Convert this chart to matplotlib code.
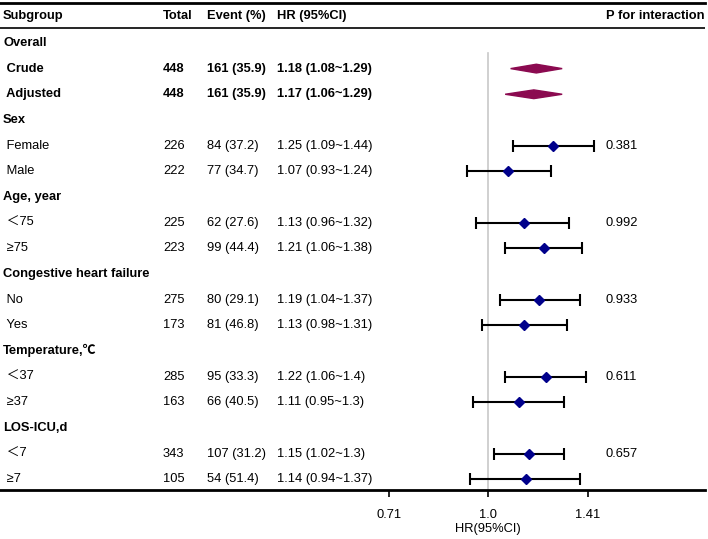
import matplotlib.pyplot as plt
import matplotlib.transforms as mtransforms
from matplotlib.patches import Polygon
import numpy as np

FONT = ["Liberation Sans", "Noto Sans CJK SC", "DejaVu Sans"]
plt.rcParams["font.family"] = FONT

# rows: label, is_header, total, event, hr, lo, hi, p, bold
labels = ["Overall", " Crude", " Adjusted", "Sex", " Female", " Male",
          "Age, year", " \uff1c75", " \u226575", "Congestive heart failure", " No", " Yes",
          "Temperature,\u2103", " \uff1c37", " \u226537", "LOS-ICU,d", " \uff1c7", " \u22657"]
is_header = [True, False, False, True, False, False, True, False, False,
             True, False, False, True, False, False, True, False, False]
totals = ["", "448", "448", "", "226", "222", "", "225", "223", "", "275", "173",
          "", "285", "163", "", "343", "105"]
events = ["", "161 (35.9)", "161 (35.9)", "", "84 (37.2)", "77 (34.7)", "", "62 (27.6)",
          "99 (44.4)", "", "80 (29.1)", "81 (46.8)", "", "95 (33.3)", "66 (40.5)", "",
          "107 (31.2)", "54 (51.4)"]
hr = [np.nan, 1.18, 1.17, np.nan, 1.25, 1.07, np.nan, 1.13, 1.21, np.nan, 1.19, 1.13,
      np.nan, 1.22, 1.11, np.nan, 1.15, 1.14]
lo = [np.nan, 1.08, 1.06, np.nan, 1.09, 0.93, np.nan, 0.96, 1.06, np.nan, 1.04, 0.98,
      np.nan, 1.06, 0.95, np.nan, 1.02, 0.94]
hi = [np.nan, 1.29, 1.29, np.nan, 1.44, 1.24, np.nan, 1.32, 1.38, np.nan, 1.37, 1.31,
      np.nan, 1.4, 1.3, np.nan, 1.3, 1.37]
hr_text = ["", "1.18 (1.08~1.29)", "1.17 (1.06~1.29)", "", "1.25 (1.09~1.44)",
           "1.07 (0.93~1.24)", "", "1.13 (0.96~1.32)", "1.21 (1.06~1.38)", "",
           "1.19 (1.04~1.37)", "1.13 (0.98~1.31)", "", "1.22 (1.06~1.4)", "1.11 (0.95~1.3)",
           "", "1.15 (1.02~1.3)", "1.14 (0.94~1.37)"]
p_int = ["", "", "", "", "0.381", "", "", "0.992", "", "", "0.933", "", "", "0.611", "",
         "", "0.657", ""]
overall_rows = [1, 2]

xticks = [0.71, 1.0, 1.41]
xticklabels = ["0.71", "1.0", "1.41"]

fig = plt.figure(figsize=(7.08, 5.39), dpi=100)
ax = fig.add_axes([0, 49 / 539, 705 / 708, 487 / 539])
ax.set_xscale("log")
xmin, xmax = 0.186, 2.11
ax.set_xlim(xmin, xmax)
ax.set_ylim(18.47, -0.506)

for s in ["left", "right"]:
    ax.spines[s].set_visible(False)
ax.spines["top"].set_linewidth(2)
ax.spines["bottom"].set_linewidth(2)
ax.set_yticks([])
ax.set_xticks(xticks)
ax.set_xticklabels(xticklabels, fontsize=9.3)
ax.xaxis.set_minor_locator(plt.NullLocator())
ax.tick_params(axis="x", direction="out", length=5, width=1.2, pad=9)
ax.set_xlabel("HR(95%CI)", fontsize=9.3)
ref_frac = np.log(1.0 / xmin) / np.log(xmax / xmin)
ax.xaxis.set_label_coords(ref_frac, -0.067)

# header underline
ax.axhline(0.48, color="black", lw=1.2)
# reference line
ax.plot([1.0, 1.0], [1.44, 18.47], color="#c8c8c8", lw=1.2, zorder=1)

trans = mtransforms.blended_transform_factory(ax.transAxes, ax.transData)
W = 705.0
fs = 9.3

# header row
ax.text(3 / W, 0, "Subgroup", transform=trans, ha="left", va="center", fontsize=fs, fontweight="bold")
ax.text(163 / W, 0, "Total", transform=trans, ha="left", va="center", fontsize=fs, fontweight="bold")
ax.text(207 / W, 0, "Event (%)", transform=trans, ha="left", va="center", fontsize=fs, fontweight="bold")
ax.text(277 / W, 0, "HR (95%CI)", transform=trans, ha="left", va="center", fontsize=fs, fontweight="bold")
ax.text(704 / W, 0, "P for interaction", transform=trans, ha="right", va="center", fontsize=fs, fontweight="bold")

for i in range(len(labels)):
    y = i + 1.05
    bold = is_header[i] or i in overall_rows
    fw = "bold" if bold else "normal"
    ax.text(3 / W, y, labels[i], transform=trans, ha="left", va="center", fontsize=fs, fontweight=fw)
    ax.text(163 / W, y, totals[i], transform=trans, ha="left", va="center", fontsize=fs, fontweight=fw)
    ax.text(207 / W, y, events[i], transform=trans, ha="left", va="center", fontsize=fs, fontweight=fw)
    ax.text(277 / W, y, hr_text[i], transform=trans, ha="left", va="center", fontsize=fs, fontweight=fw)
    ax.text(605 / W, y, p_int[i], transform=trans, ha="left", va="center", fontsize=fs)
    if np.isnan(hr[i]):
        continue
    if i in overall_rows:
        d = Polygon([(lo[i], y), (hr[i], y - 0.17), (hi[i], y), (hr[i], y + 0.17)],
                    closed=True, facecolor="#8b0a50", edgecolor="#8b0a50", zorder=3)
        ax.add_patch(d)
    else:
        ax.errorbar(hr[i], y, xerr=[[hr[i] - lo[i]], [hi[i] - hr[i]]], fmt="D",
                    color="black", ecolor="black", elinewidth=1.5, capsize=4, capthick=1.5,
                    markerfacecolor="#00008b", markeredgecolor="#00008b", markersize=5.5, zorder=3)

fig.savefig("out.png", dpi=100)
